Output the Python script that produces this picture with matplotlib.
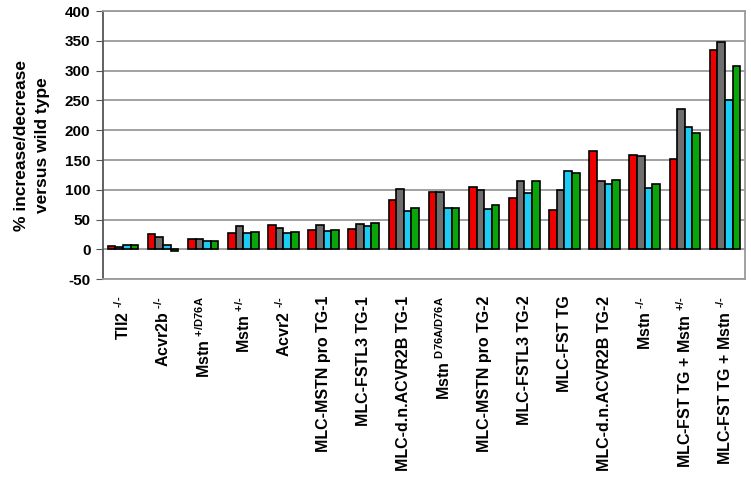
import matplotlib.pyplot as plt
import numpy as np

plt.rcParams['font.family'] = ['Liberation Sans', 'DejaVu Sans']
plt.rcParams['font.weight'] = 'bold'
plt.rcParams['axes.unicode_minus'] = False
plt.rcParams['mathtext.fontset'] = 'custom'
plt.rcParams['mathtext.rm'] = 'Liberation Sans:bold'
plt.rcParams['mathtext.it'] = 'Liberation Sans:bold'
plt.rcParams['mathtext.bf'] = 'Liberation Sans:bold'

# genotype groups (x tick labels)
labels = [
    r'Tll2 $^{\text{-/-}}$',
    r'Acvr2b $^{\text{-/-}}$',
    r'Mstn $^{\text{+/D76A}}$',
    r'Mstn $^{\text{+/-}}$',
    r'Acvr2 $^{\text{-/-}}$',
    'MLC-MSTN pro TG-1',
    'MLC-FSTL3 TG-1',
    'MLC-d.n.ACVR2B TG-1',
    r'Mstn $^{\text{D76A/D76A}}$',
    'MLC-MSTN pro TG-2',
    'MLC-FSTL3 TG-2',
    'MLC-FST TG',
    'MLC-d.n.ACVR2B TG-2',
    r'Mstn $^{\text{-/-}}$',
    r'MLC-FST TG + Mstn $^{\text{+/-}}$',
    r'MLC-FST TG + Mstn $^{\text{-/-}}$',
]

# four series per group (red, gray, cyan, green)
red = [6, 26, 18, 28, 40, 33, 34, 82, 97, 104, 86, 66, 165, 159, 152, 334]
gray = [4, 20, 18, 39, 35, 40, 43, 101, 97, 100, 114, 99, 114, 157, 235, 349]
cyan = [8, 8, 14, 28, 27, 30, 39, 64, 70, 67, 94, 131, 109, 103, 206, 251]
green = [8, -3, 14, 29, 29, 32, 45, 69, 70, 74, 115, 128, 117, 110, 196, 308]

series = [red, gray, cyan, green]
colors = ['#ee0000', '#6e6e6e', '#1ecbf2', '#0aa50a']

fig = plt.figure(figsize=(7.51, 4.87), dpi=100)
ax = fig.add_axes([0.137, 0.427, 0.855, 0.55])

x = np.arange(len(labels))
w = 0.19
for i, (vals, c) in enumerate(zip(series, colors)):
    ax.bar(x + (i - 1.5) * w, vals, w, color=c, edgecolor='black', linewidth=1.2, zorder=3)

ax.set_xlim(-0.5, len(labels) - 0.5)
ax.set_ylim(-50, 400)
ax.set_yticks(np.arange(-50, 401, 50))
ax.yaxis.grid(True, color='#9a9a9a', linewidth=1.3, zorder=0)
ax.set_axisbelow(True)

for s in ['top', 'right', 'bottom']:
    ax.spines[s].set_color('#9a9a9a')
    ax.spines[s].set_linewidth(1.3)
ax.spines['left'].set_color('#555555')
ax.spines['left'].set_linewidth(1.3)

ax.tick_params(axis='y', length=5, color='#555555', labelsize=11, pad=4)
ax.set_xticks(x)
ax.set_xticklabels(labels, rotation=90, fontsize=11.5, va='top', ha='center')
ax.tick_params(axis='x', length=0, pad=12)

ax.set_ylabel('% increase/decrease\nversus wild type', fontsize=12.5, fontweight='bold',
              linespacing=1.5, labelpad=11)

fig.savefig('out.png', dpi=100)
